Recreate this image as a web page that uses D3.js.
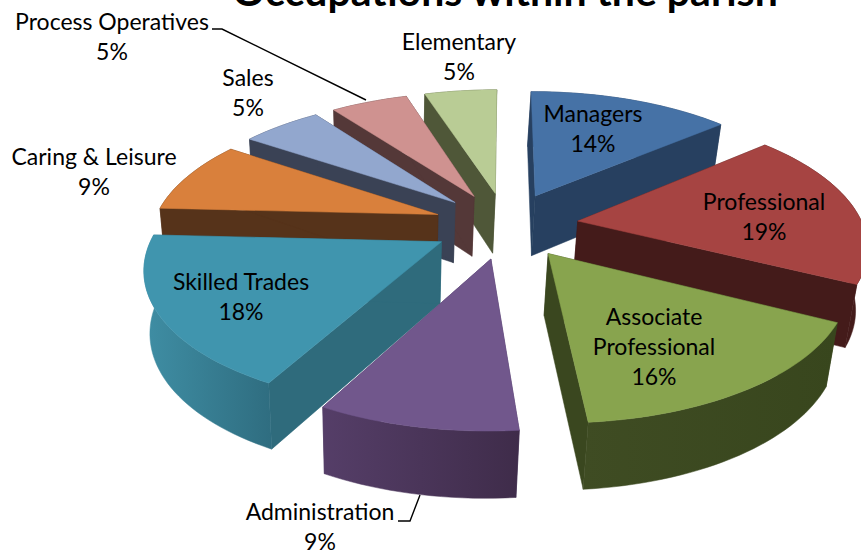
<!DOCTYPE html>
<html><head><meta charset="utf-8">
<script src="https://cdn.jsdelivr.net/npm/d3@7"></script>
<style>html,body{margin:0;padding:0;background:#fff;overflow:hidden}svg{display:block}text{font-family:Lato,Carlito,sans-serif;fill:#000}</style>
</head><body><div id="chart"></div>
<script>
const titleText = "Occupations within the parish";
const categories = ["Managers","Professional","Associate Professional","Administration","Skilled Trades","Caring & Leisure","Sales","Process Operatives","Elementary"];
const values = [13.7,18.8,16.1,9.2,18.0,8.7,5.4,5.2,4.9];
const topColors = ["#4672a6","#a64442","#88a44e","#71578c","#4095ae","#d9803c","#92a7ce","#cf9290","#b9cc95"];
const sideColors = ["#274060","#441b1a","#3a471f","#4a3860","#2f6b7c","#56331a","#3a4255","#543838","#4f5738"];
const wallLeft = ["#274060","#441b1a","#3f4c23","#553e68","#3f8ea4","#56331a","#3a4255","#543838","#4f5738"];
const wallRight = ["#274060","#441b1a","#38461d","#3f2c4a","#2f6d80","#56331a","#3a4255","#543838","#4f5738"];
const labelPos = [[593,114],[764,202],[654,317],[320,512],[241,282],[94,157],[248,78],[112,22],[459,42]];
const labelLines = [["Managers","14%"],["Professional","19%"],["Associate","Professional","16%"],["Administration","9%"],["Skilled Trades","18%"],["Caring & Leisure","9%"],["Sales","5%"],["Process Operatives","5%"],["Elementary","5%"]];
const drawOrder = [8,7,6,5,4,3,0,1,2];
const leaders = [[[212,29],[222,29],[366,100]],[[398,521],[410,521],[420,495]]];

const W=861,H=551;
const cx=506,cy=225,R=285,V=130.5,D=6,explode=0.255,shrink=0.025,nadirX=-3;
const depth=y=>61-5*y;
const svg=d3.select("#chart").append("svg").attr("width",W).attr("height",H);
const defs=svg.append("defs");
const pie=d3.pie().sort(null).value(d=>d)(values);
const project=(x,y,z)=>{const s=D/(D+y);return [cx+x*s*R*(1-shrink*z)+nadirX*z,cy-y*s*V+depth(y)*z];};
const lineGen=d3.line();
categories.forEach((c,i)=>{
  const g=defs.append("linearGradient").attr("id","w"+i);
  g.append("stop").attr("offset","0").attr("stop-color",wallLeft[i]);
  g.append("stop").attr("offset","1").attr("stop-color",wallRight[i]);
});
const slices=svg.append("g");
drawOrder.forEach(i=>{
  const p=pie[i],mid=(p.startAngle+p.endAngle)/2;
  const ex=explode*Math.sin(mid),ey=explode*Math.cos(mid);
  const n=Math.max(8,Math.round((p.endAngle-p.startAngle)/0.03));
  const angs=d3.range(n+1).map(k=>p.startAngle+(p.endAngle-p.startAngle)*k/n);
  const rim=z=>angs.map(a=>project(ex+Math.sin(a),ey+Math.cos(a),z));
  const apex=z=>project(ex,ey,z);
  const g=slices.append("g");
  const t=rim(0),b=rim(1);
  const wall=(pts,fill)=>g.append("path").attr("d",lineGen(pts)+"Z").attr("fill",fill).attr("stroke",fill).attr("stroke-width",0.5).attr("stroke-linejoin","round");
  wall([apex(0),t[0],b[0],apex(1)],sideColors[i]);
  wall([apex(0),t[n],b[n],apex(1)],sideColors[i]);
  wall(t.concat(b.slice().reverse()),"url(#w"+i+")");
  wall([apex(0)].concat(t),topColors[i]);
});
svg.append("text").attr("x",505).attr("y",6).attr("text-anchor","middle")
  .attr("font-size",41).attr("font-weight",700).text(titleText);
const labels=svg.append("g");
categories.forEach((c,i)=>{
  labelLines[i].forEach((t,k)=>labels.append("text")
    .attr("x",labelPos[i][0]).attr("y",labelPos[i][1]+k*30)
    .attr("dy","0.35em").attr("text-anchor","middle").attr("font-size",23).text(t));
});
leaders.forEach(l=>svg.append("path").attr("d",lineGen(l)).attr("fill","none").attr("stroke","#000").attr("stroke-width",1.4));
</script></body></html>
